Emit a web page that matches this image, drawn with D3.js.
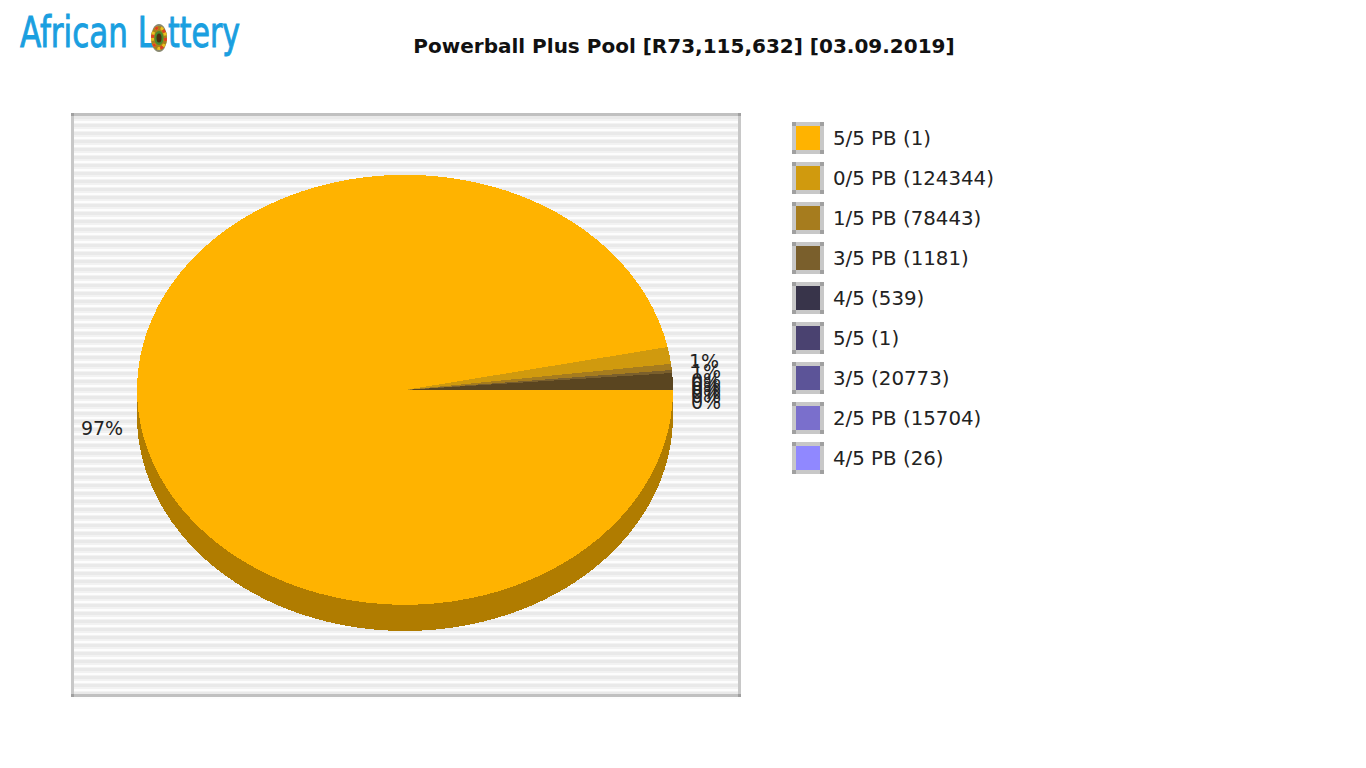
<!DOCTYPE html>
<html><head><meta charset="utf-8">
<script src="https://d3js.org/d3.v7.min.js"></script>
<style>html,body{margin:0;padding:0;background:#fff;overflow:hidden}svg{display:block}</style>
</head><body><div id="c"></div>
<script>
const chartTitle = "Powerball Plus Pool [R73,115,632] [03.09.2019]";
const logoWords = ["African L", "ttery"];
const legendLabels = ["5/5 PB (1)","0/5 PB (124344)","1/5 PB (78443)","3/5 PB (1181)","4/5 (539)","5/5 (1)","3/5 (20773)","2/5 PB (15704)","4/5 PB (26)"];
const shares = [96.8, 1.26, 0.46, 0.22, 1.0, 0.01, 0.2, 0.04, 0.01];
const sliceLabels = ["97%","1%","1%","0%","0%","0%","0%","0%","0%"];
const colors = ["#ffb300","#d09a0e","#a67c1e","#7a5f2c","#38344a","#4a4270","#5c5498","#7a6fcc","#9088ff"];
const sliceColors = ["#ffb300","#d09a0e","#a67c1e","#7a5f2c","#5a4520","#5a4520","#5a4520","#5a4520","#5a4520"];

const W=1366,H=768;
const svg=d3.select("#c").append("svg").attr("width",W).attr("height",H).style("font-family","'DejaVu Sans'");

// plot panel
const px=71,py=113,pw=670,ph=584,bw=3,period=8;
const panel=svg.append("g");
panel.append("rect").attr("x",px).attr("y",py).attr("width",pw).attr("height",ph).attr("fill","#f2f2f2");
d3.range(py+bw,py+ph-bw,period).forEach(y=>{
  panel.append("rect").attr("x",px).attr("y",y).attr("width",pw).attr("height",3).attr("fill","#e9e9e9");
  panel.append("rect").attr("x",px).attr("y",y+5).attr("width",pw).attr("height",2).attr("fill","#fdfdfd");
});
panel.append("rect").attr("x",px).attr("y",py).attr("width",bw).attr("height",ph).attr("fill","#c8c8c8");
panel.append("rect").attr("x",px+pw-bw).attr("y",py).attr("width",bw).attr("height",ph).attr("fill","#c8c8c8");
panel.append("rect").attr("x",px).attr("y",py).attr("width",pw).attr("height",bw).attr("fill","#c0c0c0");
panel.append("rect").attr("x",px).attr("y",py+ph-bw).attr("width",pw).attr("height",bw).attr("fill","#c0c0c0");
[[px,py],[px+pw-bw,py],[px,py+ph-bw],[px+pw-bw,py+ph-bw]].forEach(c=>panel.append("rect").attr("x",c[0]).attr("y",c[1]).attr("width",bw).attr("height",bw).attr("fill","#a0a0a0"));

// pie
const cx=405,cy=390,rx=268,ry=215,depth=26;
const pie=d3.pie().value(d=>d).sort(null).startAngle(Math.PI/2).endAngle(Math.PI/2+2*Math.PI);
const arcs=pie(shares);
const arc=d3.arc().innerRadius(0).outerRadius(1);
const wall=svg.append("g").attr("shape-rendering","crispEdges");
d3.range(depth,0,-1).forEach(i=>{
  wall.append("path").attr("transform",`translate(${cx},${cy+i}) scale(${rx},${ry})`)
    .attr("d",arc({startAngle:0,endAngle:2*Math.PI})).attr("fill","#b07c00");
});
const g=svg.append("g").attr("transform",`translate(${cx},${cy}) scale(${rx},${ry})`).attr("shape-rendering","crispEdges");
g.selectAll("path").data(arcs).join("path").attr("d",arc).attr("fill",(d,i)=>sliceColors[i]);

// slice labels
const labelYs=[362,372,381,385,389,393,397,403];
svg.append("g").selectAll("text").data(sliceLabels).join("text")
  .attr("x",(d,i)=>i==0?102:(i==1?704:706))
  .attr("y",(d,i)=>i==0?429:labelYs[i-1])
  .attr("text-anchor","middle").attr("dominant-baseline","middle")
  .attr("font-size",19).attr("fill","#222").text(d=>d);

// title
svg.append("text").attr("x",684).attr("y",53).attr("text-anchor","middle").attr("font-size",20).attr("font-weight","bold").attr("fill","#111").text(chartTitle);

// legend
const ly=d3.scaleBand().domain(legendLabels).range([122,482]);
const leg=svg.append("g").selectAll("g").data(legendLabels).join("g").attr("transform",d=>`translate(792,${ly(d)})`);
leg.append("rect").attr("width",32).attr("height",32).attr("fill","#c8c8c8");
[[0,0],[28,0],[0,28],[28,28]].forEach(c=>leg.append("rect").attr("x",c[0]).attr("y",c[1]).attr("width",4).attr("height",4).attr("fill","#a0a0a0"));
leg.append("rect").attr("x",4).attr("y",4).attr("width",24).attr("height",24).attr("fill",(d,i)=>colors[i]);
leg.append("text").attr("x",41).attr("y",17).attr("dominant-baseline","middle").attr("font-size",19.8).attr("fill","#222").text(d=>d);

// logo
const logo=svg.append("g").attr("font-family","'Liberation Sans Narrow','DejaVu Sans Condensed','Liberation Sans'").attr("fill","#1a9fe0").attr("stroke","#1a9fe0").attr("stroke-width",0.9);
logo.append("text").attr("x",20).attr("y",47).attr("font-size",42).attr("textLength",135).attr("lengthAdjust","spacingAndGlyphs").text(logoWords[0]);
logo.append("text").attr("x",168).attr("y",47).attr("font-size",42).attr("textLength",72).attr("lengthAdjust","spacingAndGlyphs").text(logoWords[1]);
const b=svg.append("g").attr("transform","translate(159,38)");
b.append("ellipse").attr("rx",8).attr("ry",14).attr("fill","#8a8a70");
b.append("ellipse").attr("rx",8).attr("ry",12).attr("fill","#a8801a");
b.append("ellipse").attr("rx",6.5).attr("ry",10.5).attr("fill","none").attr("stroke","#e8c020").attr("stroke-width",3).attr("stroke-dasharray","3 3");
b.append("ellipse").attr("rx",6.5).attr("ry",10.5).attr("fill","none").attr("stroke","#e04020").attr("stroke-width",3).attr("stroke-dasharray","3 6");
b.append("ellipse").attr("rx",4.5).attr("ry",7).attr("fill","#4a8a30");
b.append("ellipse").attr("rx",2.5).attr("ry",4.5).attr("fill","#4a3010");
</script></body></html>
